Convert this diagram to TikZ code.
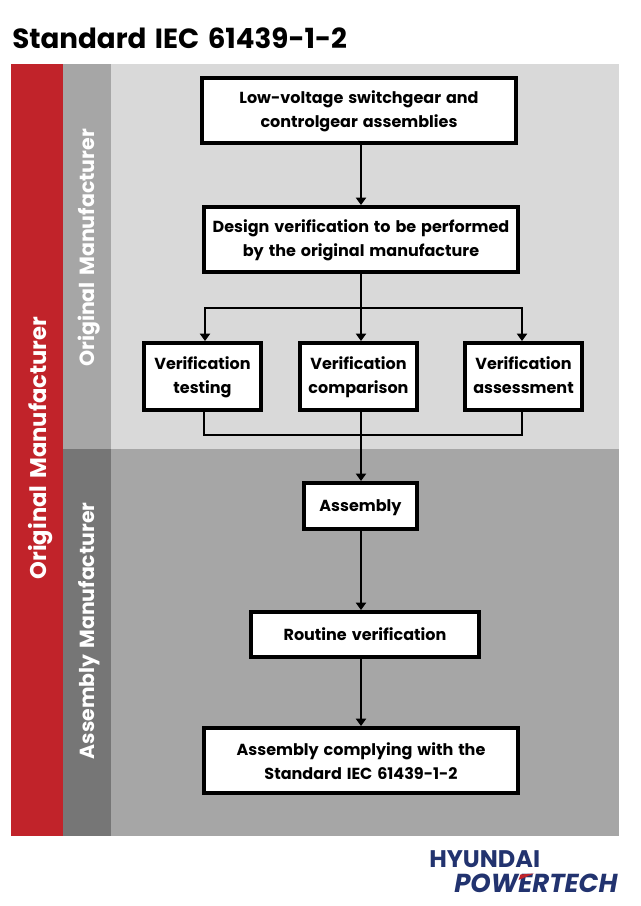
\documentclass[tikz,border=0pt]{standalone}
\usepackage{fontspec}
\setmainfont[WordSpace=1.45]{Poppins}
\usetikzlibrary{arrows.meta}
\definecolor{hred}{HTML}{C1232A}
\definecolor{lightbg}{HTML}{D9D9D9}
\definecolor{darkbg}{HTML}{A6A6A6}
\definecolor{stripa}{HTML}{A6A6A6}
\definecolor{stripb}{HTML}{767676}
\definecolor{navy}{HTML}{22336F}
\newcommand{\toph}{\rule{0pt}{11pt}}
\newcommand{\both}{\vphantom{g}}
\tikzset{
 fbox/.style={draw=black,fill=white,line width=2.8pt,inner sep=0pt,align=center,
   font=\fontsize{12pt}{18pt}\selectfont\bfseries,text=black},
 wide/.style={minimum width=235.7pt,minimum height=48.9pt},
 small/.style={minimum width=87.9pt,minimum height=50.4pt},
 arr/.style={line width=1.8pt,-{Triangle[length=5.5pt,width=7.5pt]}},
 lin/.style={line width=1.8pt},
 vlab/.style={rotate=90,text=white,inner sep=0pt},
}
\begin{document}
\begin{tikzpicture}[x=0.75pt,y=-0.75pt]
\useasboundingbox (0,0) rectangle (640,906);
\fill[white] (0,0) rectangle (640,906);
\node[anchor=west,inner sep=0pt,font=\fontsize{20.8pt}{24pt}\selectfont\bfseries] (title) at (12,38) {Standard IEC 61439-1-2};
\fill[lightbg] (111,64) rectangle (619,449);
\fill[darkbg] (111,449) rectangle (619,836);
\fill[hred] (11,64) rectangle (63,836);
\fill[stripa] (63,64) rectangle (111,449);
\fill[stripb] (63,449) rectangle (111,836);
\node[vlab,font=\fontsize{17pt}{18pt}\selectfont\bfseries] (l1) at (41,448) {Original Manufacturer};
\node[vlab,font=\fontsize{15.4pt}{18pt}\selectfont\bfseries] (l2) at (89,248) {Original Manufacturer};
\node[vlab,font=\fontsize{15.3pt}{18pt}\selectfont\bfseries] (l3) at (89,631) {Assembly Manufacturer};
% boxes
\node[fbox,wide] (b1) at (359,110.5) {\toph Low-voltage switchgear and\\controlgear assemblies\both};
\node[fbox,wide] (b2) at (361,239.5) {\toph Design verification to be performed\\by the original manufacture\both};
\node[fbox,small] (v1) at (202.5,376.5) {\toph Verification\\testing\both};
\node[fbox,small] (v2) at (358.5,376.5) {\toph Verification\\comparison\both};
\node[fbox,small] (v3) at (523.5,376.5) {\toph Verification\\assessment\both};
\node[fbox,minimum width=84.9pt,minimum height=34.7pt] (as) at (360.5,506) {\toph Assembly};
\node[fbox,minimum width=171.2pt,minimum height=33.9pt] (rv) at (365,634.5) {Routine verification};
\node[fbox,wide] (fin) at (361,760.5) {\rule{0pt}{14pt}Assembly complying with the\\Standard IEC 61439-1-2\both};
% routing coordinates
\coordinate (trunk) at (361,308);
\coordinate (bl) at (205,308);
\coordinate (br) at (522,308);
\coordinate (jn) at (361,435);
\coordinate (jl) at (204,435);
\coordinate (jr) at (522,435);
% connectors
\draw[arr] (b1.south -| trunk) -- (b2.north -| trunk);
\draw[arr] (b2.south -| trunk) -- (v2.north -| trunk);
\draw[arr] (trunk) -- (bl) -- (v1.north -| bl);
\draw[arr] (trunk) -- (br) -- (v3.north -| br);
\draw[lin] (v1.south -| jl) -- (jl) -- (jr) -- (v3.south -| jr);
\draw[arr] (v2.south -| jn) -- (as.north -| jn);
\draw[arr] (as.south -| jn) -- (rv.north -| jn);
\draw[arr] (rv.south -| jn) -- (fin.north -| jn);
% logo
\node[anchor=west,inner sep=0pt,text=navy,font=\fontsize{18pt}{18pt}\selectfont\bfseries] (lg1) at (429,859) {HYUNDAI};
\node[anchor=west,inner sep=0pt,text=navy,font=\fontsize{19.5pt}{18pt}\selectfont\bfseries\itshape] (lg2) at (454,883) {POWERTECH};
\fill[hred] (534,873.5) -- (520.5,874.5) -- (518.5,880) -- cycle;
\end{tikzpicture}
\end{document}
